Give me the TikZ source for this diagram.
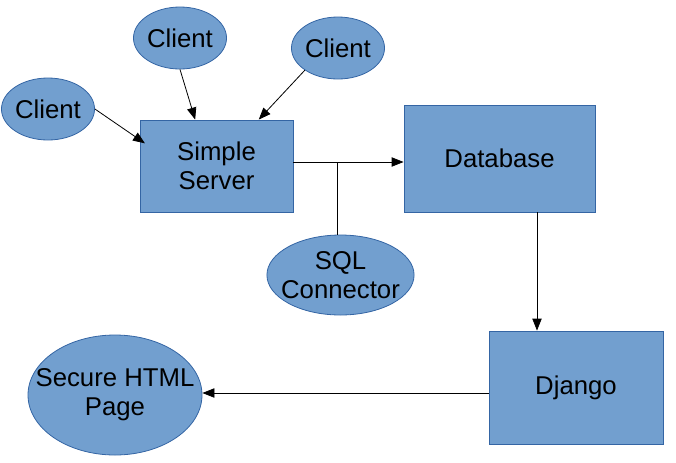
\documentclass[tikz,border=0pt]{standalone}
\usepackage{fontspec}
\setmainfont{Liberation Sans}
\usetikzlibrary{shapes.geometric,arrows.meta}
\definecolor{boxfill}{HTML}{729FCF}
\definecolor{boxline}{HTML}{3465A4}
\begin{document}
\begin{tikzpicture}[x=0.75pt,y=-0.75pt,
  blob/.style={ellipse,draw=boxline,fill=boxfill,line width=0.6pt,inner sep=0pt,align=center,
    font=\fontsize{19.3}{21.5}\selectfont},
  block/.style={rectangle,draw=boxline,fill=boxfill,line width=0.6pt,inner sep=0pt,align=center,
    font=\fontsize{19.3}{21.5}\selectfont},
  flow/.style={-{Triangle[length=9pt,width=7pt]},line width=0.6pt}]
  \useasboundingbox (0,0) rectangle (676,462);

  % Clients
  \node[blob,minimum width=67.5pt,minimum height=46.5pt] (cTop) at (180,38) {Client};
  \node[blob,minimum width=67.5pt,minimum height=46.5pt] (cRight) at (338,48) {Client};
  \node[blob,minimum width=67.5pt,minimum height=46.5pt] (cLeft) at (48,109) {Client};

  % Boxes
  \node[block,minimum width=114.75pt,minimum height=69pt] (server) at (216.5,166) {Simple\\Server};
  \node[block,minimum width=143.25pt,minimum height=80.25pt] (db) at (499.5,158.5) {Database};
  \node[block,minimum width=130.5pt,minimum height=84.75pt] (django) at (576,387.5) {Django};

  % Ellipses below (text wider than the shape allows, so pull the sides in)
  \node[blob,inner xsep=-5.5pt,minimum width=110.25pt,minimum height=60pt] (sql) at (340.5,275) {SQL\\Connector};
  \node[blob,inner xsep=-13.5pt,minimum width=130.5pt,minimum height=90pt] (page) at (115,395) {Secure HTML\\Page};

  % Arrows
  \draw[flow] (cTop.south) -- ([xshift=-16pt]server.north);
  \draw[flow] (cRight.south west) -- ([xshift=-26pt]server.north east);
  \draw[flow] (cLeft.east) -- ([xshift=4pt,yshift=17pt]server.west);
  \coordinate (tee) at (337,162);
  \draw[flow] (server.east |- tee) -- (db.west |- tee);
  \draw[line width=0.6pt] (tee) -- (tee |- sql.north);
  \coordinate (drop) at (537,0);
  \draw[flow] (db.south -| drop) -- (django.north -| drop);
  \coordinate (back) at (0,393);
  \draw[flow] (django.west |- back) -- (page.east |- back);
\end{tikzpicture}
\end{document}
